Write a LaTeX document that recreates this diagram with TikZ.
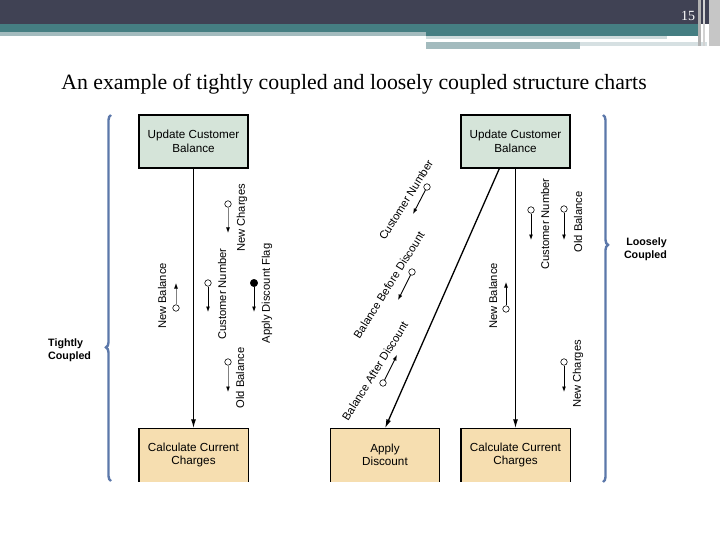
\documentclass[tikz,border=0pt]{standalone}
\usepackage{fontspec}
\setmainfont{Liberation Serif}
\newfontfamily\arialf{Liberation Sans}
\usetikzlibrary{arrows.meta,decorations.pathreplacing,calc}
\definecolor{hdark}{RGB}{64,66,84}
\definecolor{hteal}{RGB}{69,126,130}
\definecolor{hlight}{RGB}{163,187,190}
\definecolor{boxgreen}{RGB}{213,228,217}
\definecolor{boxtan}{RGB}{246,222,176}
\definecolor{bracecol}{RGB}{92,120,170}
\tikzset{
  modbox/.style={minimum width=109pt,minimum height=53pt,inner sep=0pt,align=center,
    font=\arialf\fontsize{11.7}{13.5}\selectfont},
  topbox/.style={modbox,draw=black,line width=1.4pt,fill=boxgreen},
  botbox/.style={modbox,fill=boxtan},
  mainarrow/.style={-{Latex[length=9pt,width=5pt]},line width=1.3pt},
  coupleo/.style={circle,draw=black,fill=white,inner sep=0pt,minimum size=6.5pt,line width=0.6pt},
  couplef/.style={circle,draw=black,fill=black,inner sep=0pt,minimum size=7.5pt},
  carrow/.style={-{Latex[length=5.5pt,width=4pt]},line width=0.9pt},
  carrowg/.style={-{Latex[length=5.5pt,width=4pt,color=black]},line width=0.9pt,draw=gray},
  clabel/.style={inner sep=0pt,font=\arialf\fontsize{11.2}{13}\selectfont},
  sidelabel/.style={inner sep=0pt,font=\arialf\bfseries\fontsize{10.7}{13.5}\selectfont},
  bracestyle/.style={draw=bracecol,line width=2.4pt,decorate},
}
\begin{document}
\begin{tikzpicture}[x=1pt,y=-1pt]
\useasboundingbox (0,0) rectangle (720,540);
\fill[white] (0,0) rectangle (720,540);
% header
\fill[hdark] (0,0) rectangle (709,24);
\fill[gray!45] (709,0) rectangle (720,46);
\fill[hteal] (0,24) rectangle (700,32);
\fill[hlight] (0,32) rectangle (426,36);
\fill[hteal] (426,32) rectangle (700,36);
\fill[hlight!55] (426,36) rectangle (667,39);
\fill[hlight] (426,42) rectangle (580,49);
\fill[hlight!45] (580,42) rectangle (707,46);
\fill[gray!60] (698,0) rectangle (701,46);
\fill[gray!35] (703,0) rectangle (705,46);
\node[text=white,font=\fontsize{14}{14}\selectfont] (pnum) at (688,16) {15};
% title
\node[font=\fontsize{21.8}{26}\selectfont] (title) at (354,84) {An example of tightly coupled and loosely coupled structure charts};

% boxes
\node[topbox] (ucbL) at (193.5,141.5) {Update Customer\\Balance};
\node[botbox] (cccL) at (193.5,455) {Calculate Current\\Charges};
\node[botbox] (ad) at (385,455) {Apply\\Discount};
\node[topbox] (ucbR) at (515.5,141.5) {Update Customer\\Balance};
\node[botbox] (cccR) at (515.5,455) {Calculate Current\\Charges};
\foreach \b in {cccL,ad,cccR}{
  \draw[line width=1.4pt] (\b.south west) -- (\b.north west) -- (\b.north east) -- (\b.south east);
}

% main connectors
\draw[mainarrow] (ucbL.south) -- (cccL.north);
\draw[mainarrow] (ucbR.south) -- (cccR.north);
\coordinate (dstart) at ($(ucbR.south west)+(39,0)$);
\draw[mainarrow] (dstart) -- (ad.north);

% left couples
\node[coupleo] (lnb) at (176,308) {};
\coordinate (lnbE) at (176,283);
\draw[carrowg] (lnb) -- (lnbE);
\node[clabel,rotate=90] (lnbT) at (162,296) {New Balance};

\node[coupleo] (lcn) at (208,283) {};
\coordinate (lcnE) at (208,312);
\draw[carrow] (lcn) -- (lcnE);
\node[clabel,rotate=90] (lcnT) at (222,294) {Customer Number};

\node[couplef] (ladf) at (254,283) {};
\coordinate (ladfE) at (254,312);
\draw[carrow] (ladf) -- (ladfE);
\node[clabel,rotate=90] (ladfT) at (267,293.5) {Apply Discount Flag};

\node[coupleo] (lnc) at (228,204) {};
\coordinate (lncE) at (228,233);
\draw[carrowg] (lnc) -- (lncE);
\node[clabel,rotate=90] (lncT) at (242,218) {New Charges};

\node[coupleo] (lob) at (228,362) {};
\coordinate (lobE) at (228,392);
\draw[carrowg] (lob) -- (lobE);
\node[clabel,rotate=90] (lobT) at (240,378) {Old Balance};

% middle couples
\node[coupleo] (mcn) at (427,187) {};
\coordinate (mcnE) at (413,214);
\draw[carrow] (mcn) -- (mcnE);
\node[clabel,rotate=58] (mcnT) at (406,200) {Customer Number};

\node[coupleo] (mbb) at (412,272) {};
\coordinate (mbbE) at (398,300);
\draw[carrow] (mbb) -- (mbbE);
\node[clabel,rotate=58] (mbbT) at (389,285) {Balance Before Discount};

\node[coupleo] (mba) at (383,383) {};
\coordinate (mbaE) at (397,355);
\draw[carrow] (mba) -- (mbaE);
\node[clabel,rotate=58] (mbaT) at (375,371) {Balance After Discount};

% right couples
\node[coupleo] (rcn) at (531,210) {};
\coordinate (rcnE) at (531,240);
\draw[carrow] (rcn) -- (rcnE);
\node[clabel,rotate=90] (rcnT) at (545,224) {Customer Number};

\node[coupleo] (rob) at (564,209) {};
\coordinate (robE) at (564,240);
\draw[carrow] (rob) -- (robE);
\node[clabel,rotate=90] (robT) at (578,222) {Old Balance};

\node[coupleo] (rnb) at (506,309) {};
\coordinate (rnbE) at (506,282);
\draw[carrow] (rnb) -- (rnbE);
\node[clabel,rotate=90] (rnbT) at (493,296) {New Balance};

\node[coupleo] (rnc) at (564,362) {};
\coordinate (rncE) at (564,392);
\draw[carrow] (rnc) -- (rncE);
\node[clabel,rotate=90] (rncT) at (578,374) {New Charges};

% braces
\coordinate (lbB) at (111,481);
\coordinate (lbT) at (111,115);
\draw[bracestyle,decoration={brace,amplitude=5pt,aspect=0.365}] (lbB) -- (lbT);
\coordinate (rbT) at (603,115);
\coordinate (rbB) at (603,482);
\draw[bracestyle,decoration={brace,amplitude=5pt,aspect=0.354}] (rbT) -- (rbB);
\node[sidelabel,anchor=west,align=left] (tight) at (48,350) {Tightly\\Coupled};
\node[sidelabel,anchor=east,align=right] (loose) at (667,249) {Loosely\\Coupled};
\end{tikzpicture}
\end{document}
